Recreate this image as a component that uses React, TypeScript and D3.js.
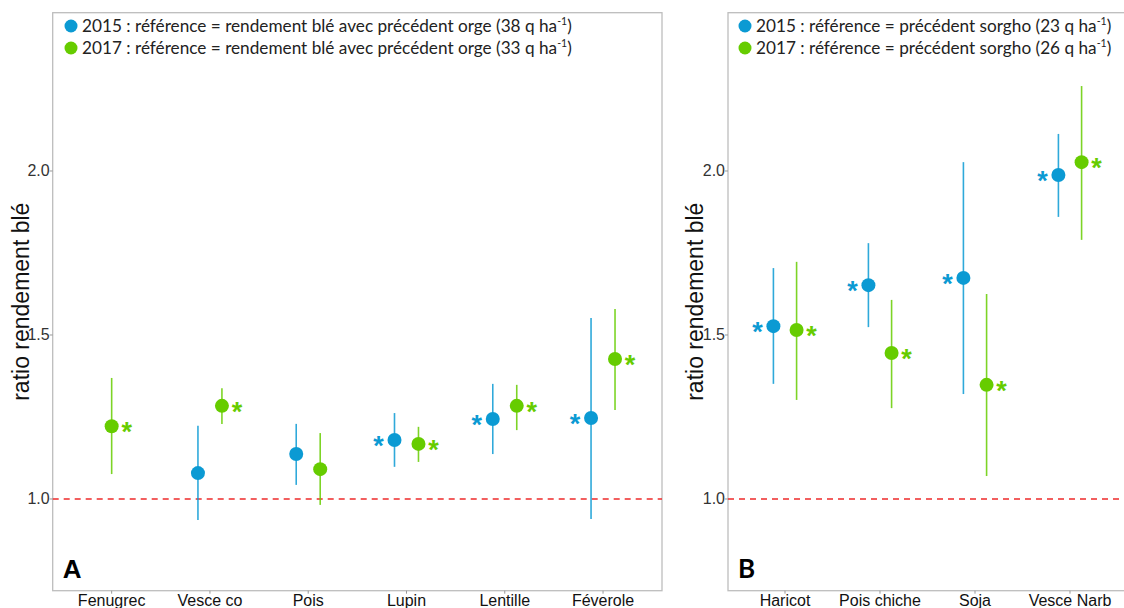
import React from "react";
import * as d3 from "d3";

// ---------- data ----------
const categoriesA = ["Fenugrec", "Vesce co", "Pois", "Lupin", "Lentille", "Féverole"];
const a2015 = [null, 1.079, 1.137, 1.18, 1.244, 1.247];
const a2015Low = [null, 0.936, 1.043, 1.098, 1.137, 0.939];
const a2015High = [null, 1.223, 1.229, 1.262, 1.351, 1.552];
const a2015Sig = [false, false, false, true, true, true];
const a2017 = [1.222, 1.284, 1.091, 1.168, 1.284, 1.427];
const a2017Low = [1.076, 1.229, 0.982, 1.113, 1.21, 1.271];
const a2017High = [1.369, 1.338, 1.201, 1.22, 1.348, 1.579];
const a2017Sig = [true, true, false, true, true, true];

const categoriesB = ["Haricot", "Pois chiche", "Soja", "Vesce Narb"];
const b2015 = [1.527, 1.652, 1.674, 1.988];
const b2015Low = [1.351, 1.524, 1.32, 1.86];
const b2015High = [1.704, 1.78, 2.027, 2.113];
const b2015Sig = [true, true, true, true];
const b2017 = [1.515, 1.445, 1.348, 2.027];
const b2017Low = [1.302, 1.277, 1.07, 1.79];
const b2017High = [1.723, 1.607, 1.625, 2.259];
const b2017Sig = [true, true, true, true];

const yTicks = [1.0, 1.5, 2.0];
const yDomain = [0.7204, 2.4826];
const legendA = ["2015 : référence = rendement blé avec précédent orge (38 q ha", "2017 : référence = rendement blé avec précédent orge (33 q ha"];
const legendB = ["2015 : référence = précédent sorgho (23 q ha", "2017 : référence = précédent sorgho (26 q ha"];

const BLUE = "#0b9ad3";
const GREEN = "#66cc00";

type Series = {
  vals: (number | null)[];
  low: (number | null)[];
  high: (number | null)[];
  sig: boolean[];
  color: string;
};

function Panel(props: {
  x0: number;
  x1: number;
  cats: string[];
  s15: Series;
  s17: Series;
  legend: string[];
  letter: string;
  titleX: number;
  legendX: number;
}) {
  const { x0, x1, cats, s15, s17, legend, letter, titleX, legendX } = props;
  const top = 12.7;
  const bottom = 590.7;
  const x = d3.scalePoint<string>().domain(cats).range([x0, x1]).padding(0.6);
  const y = d3.scaleLinear().domain(yDomain).range([bottom, top]);
  const step = x.step();
  const dodge = step * 0.122;
  const items: React.ReactNode[] = [];
  cats.forEach((c, i) => {
    const both = s15.vals[i] != null && s17.vals[i] != null;
    [s15, s17].forEach((s, k) => {
      const v = s.vals[i];
      if (v == null) return;
      const cx = (x(c) as number) + (both ? (k === 0 ? -dodge : dodge) : 0);
      items.push(
        <g key={c + k}>
          <line x1={cx} x2={cx} y1={y(s.low[i] as number)} y2={y(s.high[i] as number)} stroke={s.color} strokeWidth={1.6} strokeOpacity={0.85} />
          <circle cx={cx} cy={y(v)} r={7} fill={s.color} />
          {s.sig[i] && (
            <text x={cx + (k === 0 ? -16 : 15)} y={y(v) + 15} fontSize={27} fontWeight="bold" fontFamily="Arial, Liberation Sans" fill={s.color} textAnchor="middle">
              *
            </text>
          )}
        </g>
      );
    });
  });
  const midY = (top + bottom) / 2;
  return (
    <g>
      <rect x={x0} y={top} width={x1 - x0} height={bottom - top} fill="white" stroke="#bdbdbd" strokeWidth={1.3} />
      <line x1={x0} x2={x1} y1={y(1)} y2={y(1)} stroke="#ee2a2a" strokeWidth={1.4} strokeDasharray="6,5" />
      {yTicks.map((t) => (
        <g key={t}>
          <line x1={x0 - 3} x2={x0} y1={y(t)} y2={y(t)} stroke="#999" />
          <text x={x0 - 3} y={y(t) + 5.5} textAnchor="end" fontSize={16} fontFamily="Arial, Liberation Sans" fill="#333">
            {d3.format(".1f")(t)}
          </text>
        </g>
      ))}
      {cats.map((c) => (
        <g key={c}>
          <line x1={x(c)} x2={x(c)} y1={bottom} y2={bottom + 3} stroke="#999" />
          <text x={x(c)} y={bottom + 15.5} textAnchor="middle" fontSize={16} fontFamily="Arial, Liberation Sans" fill="#111">
            {c}
          </text>
        </g>
      ))}
      <text transform={`translate(${titleX},${midY}) rotate(-90)`} textAnchor="middle" fontSize={23} fontFamily="Arial, Liberation Sans" fill="#111">
        ratio rendement blé
      </text>
      {items}
      {legend.map((l, i) => (
        <g key={i}>
          <circle cx={legendX} cy={26 + i * 22} r={6.5} fill={i === 0 ? BLUE : GREEN} />
          <text x={legendX + 11} y={32 + i * 22} fontSize={17.2} fontFamily="Lato, Open Sans" fill="#222">
            {l}
            <tspan fontSize={10.5} dy={-7}>-1</tspan>
            <tspan dy={7}>)</tspan>
          </text>
        </g>
      ))}
      <text x={x0 + 10} y={578} fontSize={26} fontWeight="bold" fontFamily={letter === "A" ? "Arial, Liberation Sans" : "Lato, Open Sans"} fill="#000">
        {letter}
      </text>
    </g>
  );
}

export default function App() {
  return (
    <svg width={1124} height={608} style={{ position: "absolute", left: 0, top: 0, background: "white" }}>
      <rect width={1124} height={608} fill="white" />
      <Panel
        x0={52.7}
        x1={662}
        cats={categoriesA}
        s15={{ vals: a2015, low: a2015Low, high: a2015High, sig: a2015Sig, color: BLUE }}
        s17={{ vals: a2017, low: a2017Low, high: a2017High, sig: a2017Sig, color: GREEN }}
        legend={legendA}
        letter="A"
        titleX={29}
        legendX={71}
      />
      <Panel
        x0={728}
        x1={1127}
        cats={categoriesB}
        s15={{ vals: b2015, low: b2015Low, high: b2015High, sig: b2015Sig, color: BLUE }}
        s17={{ vals: b2017, low: b2017Low, high: b2017High, sig: b2017Sig, color: GREEN }}
        legend={legendB}
        letter="B"
        titleX={703}
        legendX={745}
      />
    </svg>
  );
}
